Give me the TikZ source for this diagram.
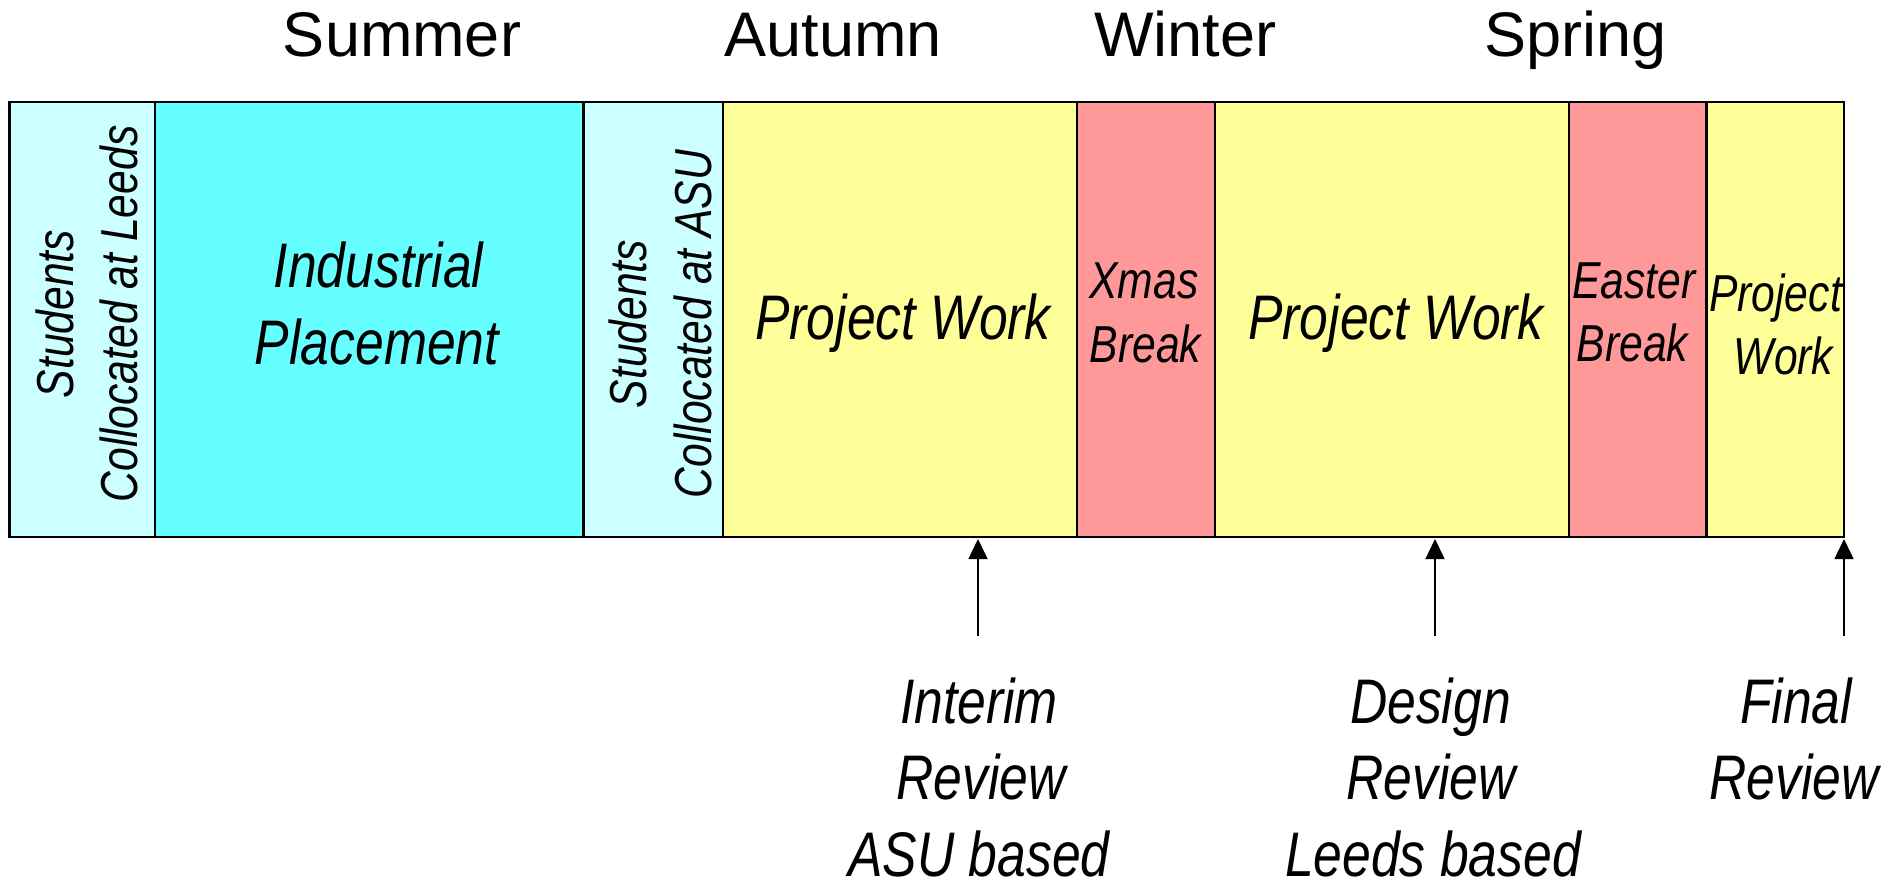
\documentclass[tikz,border=0pt]{standalone}
\usepackage{fontspec}
\setmainfont{Liberation Sans}
\newfontfamily\narrowfont{Liberation Sans}[FakeStretch=0.82]
\usetikzlibrary{arrows.meta}
\definecolor{lcyan}{HTML}{CCFFFF}
\definecolor{cyanfill}{HTML}{66FFFF}
\definecolor{yel}{HTML}{FFFF99}
\definecolor{salmon}{HTML}{FF9999}
\begin{document}
\begin{tikzpicture}[x=1bp,y=-1bp,
  cell/.style={draw=black, line width=2.5bp, inner sep=0pt, outer sep=0pt, anchor=north west, minimum height=435bp},
  season/.style={font=\fontsize{63bp}{77bp}\selectfont, anchor=base, inner sep=0pt},
  bigit/.style={font=\narrowfont\itshape\fontsize{63bp}{77bp}\selectfont, anchor=base, inner sep=0pt},
  smallit/.style={font=\narrowfont\itshape\fontsize{52bp}{64bp}\selectfont, anchor=base, inner sep=0pt},
  rot/.style={smallit, rotate=90},
  milestone/.style={line width=1.5bp, -{Triangle[length=20bp,width=19bp]}, shorten >=2bp}
]
\useasboundingbox (0,0) rectangle (1902,882);

% seasons
\node[season] (summer) at (402,56.7) {Summer};
\node[season] (autumn) at (833,56.7) {Autumn};
\node[season] (winter) at (1185.5,56.7) {Winter};
\node[season] (spring) at (1575.7,56.7) {Spring};

% timeline cells
\node[cell, fill=lcyan,    minimum width=145.7bp] (c1) at (9.3,102) {};
\node[cell, fill=cyanfill, minimum width=428.4bp] (c2) at (155,102) {};
\node[cell, fill=lcyan,    minimum width=139.5bp] (c3) at (583.4,102) {};
\node[cell, fill=yel,      minimum width=354.1bp] (c4) at (722.9,102) {};
\node[cell, fill=salmon,   minimum width=137.8bp] (c5) at (1077,102) {};
\node[cell, fill=yel,      minimum width=354.2bp] (c6) at (1214.8,102) {};
\node[cell, fill=salmon,   minimum width=137.6bp] (c7) at (1569,102) {};
\node[cell, fill=yel,      minimum width=137.4bp] (c8) at (1706.6,102) {};

% rotated labels
\node[rot] (l1a) at (73,314) {Students};
\node[rot] (l1b) at (137.5,314) {Collocated at Leeds};
\node[rot] (l3a) at (646,324) {Students};
\node[rot] (l3b) at (711,324) {Collocated at ASU};

% cell labels
\node[bigit] (ip1) at (378.5,287.3) {Industrial};
\node[bigit] (ip2) at (377,364) {Placement};
\node[bigit] (pw1) at (903,339) {Project Work};
\node[bigit] (pw2) at (1396,339) {Project Work};
\node[smallit] (xm1) at (1144,298.3) {Xmas};
\node[smallit] (xm2) at (1145.5,362.3) {Break};
\node[smallit] (eb1) at (1634,298.3) {Easter};
\node[smallit] (eb2) at (1632.5,361.7) {Break};
\node[smallit] (pw3a) at (1775.5,311) {Project};
\node[smallit] (pw3b) at (1783.5,374) {Work};

% milestones
\coordinate (m1) at (978,636);
\coordinate (m2) at (1435,636);
\coordinate (m3) at (1844,636);
\draw[milestone] (m1) -- (m1 |- c4.south);
\draw[milestone] (m2) -- (m2 |- c6.south);
\draw[milestone] (m3) -- (m3 |- c8.south);

\node[bigit] (ir1) at (979,723.3) {Interim};
\node[bigit] (ir2) at (981,799.3) {Review};
\node[bigit] (ir3) at (979,876) {ASU based};
\node[bigit] (dr1) at (1430.5,723.3) {Design};
\node[bigit] (dr2) at (1431,799.3) {Review};
\node[bigit] (dr3) at (1433,876) {Leeds based};
\node[bigit] (fr1) at (1796,723.3) {Final};
\node[bigit] (fr2) at (1794,799.3) {Review};
\end{tikzpicture}
\end{document}
